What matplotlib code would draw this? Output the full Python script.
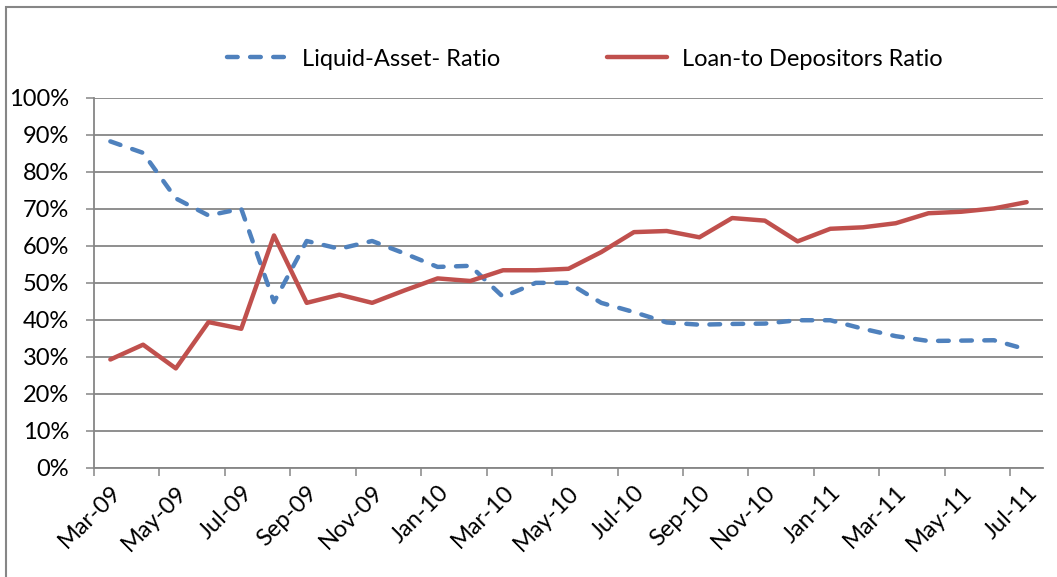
import matplotlib
matplotlib.use("Agg")
from matplotlib import pyplot as plt
from matplotlib.patches import Rectangle
from matplotlib.ticker import FixedLocator, FuncFormatter

months = ["Mar-09", "Apr-09", "May-09", "Jun-09", "Jul-09", "Aug-09", "Sep-09", "Oct-09",
          "Nov-09", "Dec-09", "Jan-10", "Feb-10", "Mar-10", "Apr-10", "May-10", "Jun-10",
          "Jul-10", "Aug-10", "Sep-10", "Oct-10", "Nov-10", "Dec-10", "Jan-11", "Feb-11",
          "Mar-11", "Apr-11", "May-11", "Jun-11", "Jul-11"]

liquid_asset = [0.882, 0.851, 0.728, 0.682, 0.700, 0.448, 0.613, 0.592, 0.613, 0.579,
                0.543, 0.546, 0.462, 0.500, 0.500, 0.446, 0.421, 0.393, 0.387, 0.389,
                0.390, 0.399, 0.399, 0.376, 0.356, 0.343, 0.344, 0.345, 0.320]

loan_deposit = [0.293, 0.333, 0.269, 0.394, 0.376, 0.628, 0.446, 0.468, 0.446, 0.480,
                0.512, 0.505, 0.534, 0.534, 0.538, 0.583, 0.637, 0.640, 0.623, 0.675,
                0.668, 0.612, 0.646, 0.650, 0.661, 0.688, 0.692, 0.701, 0.718]

blue = "#4F81BD"
red = "#C0504D"
grey = "#868686"
fs = 17

plt.rcParams['font.family'] = ['Lato', 'DejaVu Sans']

fig = plt.figure(figsize=(10.57, 5.77), dpi=100)
ax = fig.add_axes([94 / 1057, 1 - 468 / 577, (1043 - 94) / 1057, (468 - 97.7) / 577])

x = list(range(len(months)))
ax.plot(x, liquid_asset, color=blue, lw=3.2, linestyle=(0, (2.4, 2.8)),
        dash_capstyle='round', solid_joinstyle='round', label="Liquid-Asset- Ratio")
ax.plot(x, loan_deposit, color=red, lw=3.2, solid_capstyle='round',
        solid_joinstyle='round', label="Loan-to Depositors Ratio")

ax.set_xlim(-0.5, len(months) - 0.5)
ax.set_ylim(0, 1.0)

# y axis
ax.set_yticks([i / 10 for i in range(11)])
ax.yaxis.set_major_formatter(FuncFormatter(lambda v, p: "%d%%" % round(v * 100)))
ax.tick_params(axis='y', direction='out', length=5.8, width=1.1, color=grey,
               pad=12, labelsize=fs)
ax.grid(axis='y', color=grey, lw=1.3)
ax.set_axisbelow(True)

# x axis: tick marks between categories, labels every 2 months
ax.xaxis.set_major_locator(FixedLocator([-0.5 + 2 * k for k in range(15)]))
ax.xaxis.set_major_formatter(FuncFormatter(lambda v, p: ""))
ax.xaxis.set_minor_locator(FixedLocator(x[::2]))
ax.set_xticklabels(months[::2], minor=True)
ax.tick_params(axis='x', which='major', direction='out', length=5.5, width=1.1, color=grey)
ax.tick_params(axis='x', which='minor', length=0, pad=10, labelsize=fs)
for lab in ax.get_xticklabels(minor=True):
    lab.set_rotation(45)
    lab.set_rotation_mode('anchor')
    lab.set_ha('right')
    lab.set_va('top')

for s in ['top', 'right']:
    ax.spines[s].set_visible(False)
ax.spines['left'].set_color(grey)
ax.spines['bottom'].set_color(grey)
ax.spines['left'].set_linewidth(1.3)
ax.spines['bottom'].set_linewidth(1.3)

leg = fig.legend(loc='center', bbox_to_anchor=(585 / 1057, 1 - 59 / 577), ncol=2,
                 frameon=False, fontsize=fs, handlelength=2.55, columnspacing=4.5,
                 handletextpad=0.65)

# chart area border
fig.patches.append(Rectangle((6 / 1057, -0.1), 1.2, 1 - 7 / 577 + 0.1,
                             transform=fig.transFigure, fill=False,
                             edgecolor=grey, lw=1.5))

fig.savefig("out.png", dpi=100)
